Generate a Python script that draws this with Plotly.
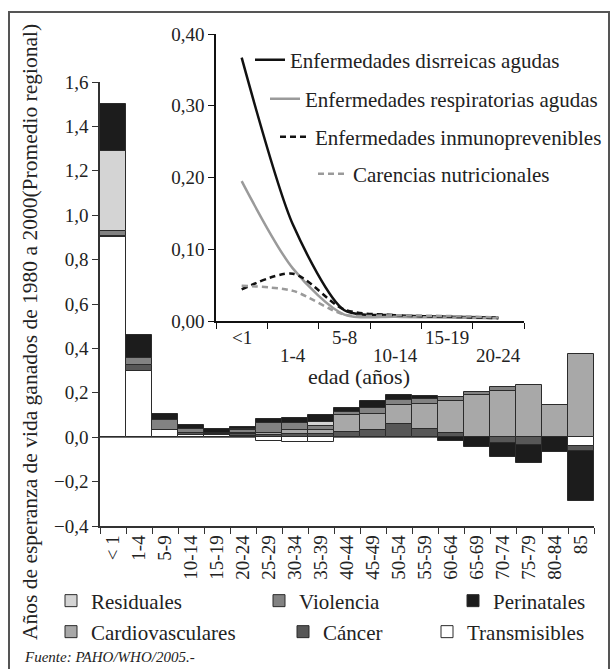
import plotly.graph_objects as go

# ---- main chart: life-expectancy gains 1980-2000 by age group and cause ----
ages = ["< 1", "1-4", "5-9", "10-14", "15-19", "20-24", "25-29", "30-34", "35-39",
        "40-44", "45-49", "50-54", "55-59", "60-64", "65-69", "70-74", "75-79",
        "80-84", "85"]

transmisibles = [0.90, 0.30, 0.034, 0.012, 0.010, 0.005, -0.018, -0.022, -0.022,
                 None, None, None, None, None, None, None, None, None, -0.040]
cancer = [0.007, 0.025, None, 0.005, 0.003, 0.008, 0.008, 0.016, 0.016,
          0.024, 0.034, 0.061, 0.039, 0.020, None, -0.028, -0.036, None, -0.022]
cardiovasculares = [None, None, None, None, None, 0.006, 0.011, 0.015, 0.015,
                    0.075, 0.072, 0.082, 0.112, 0.144, 0.190, 0.210, 0.234, 0.144, 0.373]
violencia = [0.020, 0.030, 0.045, 0.018, 0.005, 0.012, 0.045, 0.033, 0.018,
             0.015, 0.027, 0.025, 0.022, 0.017, 0.014, 0.016, None, None, None]
residuales = [0.363, None, None, None, None, 0.005, None, None, 0.021,
              None, None, None, None, None, None, None, None, None, None]
perinatales = [0.21, 0.106, 0.024, 0.022, 0.018, 0.008, 0.020, 0.024, 0.030,
               0.019, 0.030, 0.024, 0.013, -0.015, -0.046, -0.062, -0.078, -0.067, -0.226]

# ---- inset: gains by cause group in the youngest ages ----
inset_ages = ["<1", "1-4", "5-8", "10-14", "15-19", "20-24"]
diarreicas = [0.367, 0.134, 0.015, 0.008, 0.006, 0.005]
respiratorias = [0.195, 0.073, 0.009, 0.006, 0.005, 0.004]
inmunoprevenibles = [0.044, 0.066, 0.016, 0.008, 0.006, 0.004]
nutricionales = [0.049, 0.042, 0.009, 0.008, 0.007, 0.005]

FONT = "Liberation Serif, Times New Roman, serif"
W, H = 610, 669
L, R, T, B = 100, 16, 20, 143
PW, PH = W - L - R, H - T - B


def px(x):
    return (x - L) / PW


def py(y):
    return (H - B - y) / PH


bar_series = [
    ("Transmisibles", transmisibles, "#ffffff", "legend6"),
    ("Cáncer", cancer, "#575757", "legend5"),
    ("Cardiovasculares", cardiovasculares, "#a8a8a8", "legend4"),
    ("Violencia", violencia, "#828282", "legend2"),
    ("Residuales", residuales, "#d4d4d4", "legend"),
    ("Perinatales", perinatales, "#1c1c1c", "legend3"),
]

fig = go.Figure()
for name, vals, color, leg in bar_series:
    fig.add_trace(go.Bar(
        x=ages, y=vals, name=name, legend=leg,
        marker=dict(color=color, line=dict(color="#2b2b2b", width=1)),
        xaxis="x", yaxis="y",
    ))

line_series = [
    ("Enfermedades disrreicas agudas", diarreicas, "#111111", "solid", 0.7, "legend7"),
    ("Enfermedades respiratorias agudas", respiratorias, "#9a9a9a", "solid", 0.8, "legend8"),
    ("Enfermedades inmunoprevenibles", inmunoprevenibles, "#111111", "6px,4px", 0.8, "legend9"),
    ("Carencias nutricionales", nutricionales, "#9a9a9a", "6px,4px", 0.8, "legend10"),
]
for name, vals, color, dash, smooth, leg in line_series:
    fig.add_trace(go.Scatter(
        x=inset_ages, y=vals, name=name, legend=leg, mode="lines",
        line=dict(color=color, width=2.5, dash=dash, shape="spline", smoothing=smooth),
        xaxis="x2", yaxis="y2",
    ))

tick_font = dict(family=FONT, size=19, color="#222222")
n_in = len(inset_ages)


def legend_at(x_px, y_px, size):
    return dict(x=px(x_px), y=py(y_px), xanchor="left", yanchor="middle",
                bgcolor="rgba(0,0,0,0)", borderwidth=0, itemwidth=30,
                font=dict(family=FONT, size=size, color="#222222"))


# inset age labels, staggered on two rows under the axis
inset_label_notes = [
    dict(text=a, x=a, xref="x2", yref="paper", y=py(355 if i % 2 else 338),
         showarrow=False, xanchor="center", yanchor="middle", font=tick_font)
    for i, a in enumerate(inset_ages)
]

fig.update_layout(
    width=W, height=H,
    margin=dict(l=L, r=R, t=T, b=B, autoexpand=False),
    paper_bgcolor="white", plot_bgcolor="rgba(0,0,0,0)",
    barmode="relative", bargap=0,
    separators=",.",
    showlegend=True,
    font=dict(family=FONT, size=19, color="#222222"),
    xaxis=dict(
        domain=[0, 1], type="category", categoryorder="array", categoryarray=ages,
        tickson="boundaries", ticks="outside", ticklen=6, tickcolor="#333333",
        showline=True, linecolor="#333333", linewidth=1.5, tickangle=-90,
        tickfont=tick_font, showgrid=False, anchor="y",
    ),
    yaxis=dict(
        domain=[0, py(82)], range=[-0.4, 1.6], tick0=-0.4, dtick=0.2, tickformat=".1f",
        ticks="outside", ticklen=6, tickcolor="#333333", showline=True,
        linecolor="#333333", linewidth=1.5, showgrid=False,
        zeroline=True, zerolinecolor="#6e6e6e", zerolinewidth=1,
        tickfont=tick_font, anchor="x",
    ),
    xaxis2=dict(
        domain=[px(216), px(524)], type="category", categoryorder="array",
        categoryarray=inset_ages, range=[-0.5, n_in - 0.5],
        tickson="boundaries", ticks="outside", ticklen=6, tickcolor="#111111",
        showticklabels=False, showline=True, linecolor="#111111", linewidth=1.5,
        showgrid=False, anchor="y2",
    ),
    yaxis2=dict(
        domain=[py(321), py(34)], range=[0, 0.40], dtick=0.1, tickformat=".2f",
        ticks="outside", ticklen=6, tickcolor="#111111", showline=True,
        linecolor="#111111", linewidth=1.5, showgrid=False, zeroline=False,
        tickfont=tick_font, anchor="x2",
    ),
    legend=legend_at(51, 601, 21),
    legend2=legend_at(259, 601, 21),
    legend3=legend_at(453, 601, 21),
    legend4=legend_at(51, 632, 21),
    legend5=legend_at(283, 632, 21),
    legend6=legend_at(427, 632, 21),
    legend7=legend_at(250, 60, 21),
    legend8=legend_at(265, 99, 21),
    legend9=legend_at(275, 137, 21),
    legend10=legend_at(313, 174, 21),
    shapes=[dict(type="rect", xref="paper", yref="paper",
                 x0=px(9), x1=px(609), y0=py(676), y1=py(12),
                 line=dict(color="#555555", width=2), fillcolor="rgba(0,0,0,0)",
                 layer="below")],
    annotations=inset_label_notes + [
        dict(text="Años de esperanza de vida ganados de 1980 a 2000(Promedio regional)",
             x=px(30), y=py(332), xref="paper", yref="paper", textangle=-90,
             showarrow=False, font=dict(family=FONT, size=21.5, color="#222222"),
             xanchor="center", yanchor="middle"),
        dict(text="edad (años)", x=px(359), y=py(377), xref="paper", yref="paper",
             showarrow=False, font=dict(family=FONT, size=22, color="#222222"),
             xanchor="center", yanchor="middle"),
        dict(text="<i>Fuente: PAHO/WHO/2005.-</i>", x=px(22), y=py(657),
             xref="paper", yref="paper", showarrow=False,
             font=dict(family=FONT, size=15, color="#222222"),
             xanchor="left", yanchor="middle"),
    ],
)

fig.write_html("out.html")
